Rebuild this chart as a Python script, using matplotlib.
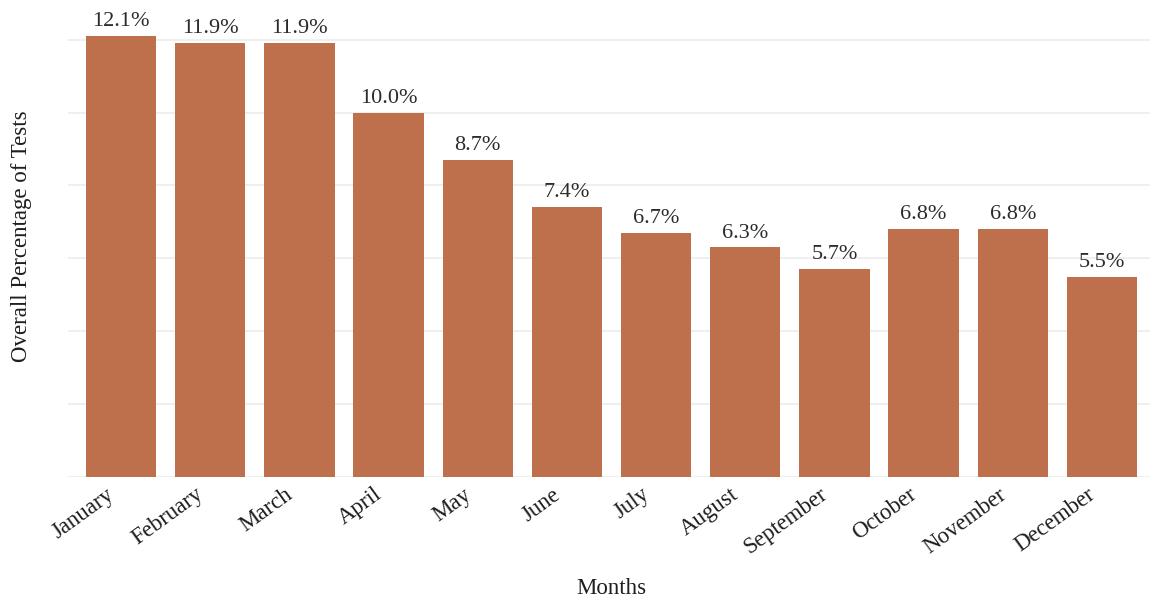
import matplotlib
matplotlib.use("Agg")
import matplotlib.pyplot as plt
from matplotlib.transforms import ScaledTranslation

months = ["January", "February", "March", "April", "May", "June", "July",
          "August", "September", "October", "November", "December"]
share = [12.1, 11.9, 11.9, 10.0, 8.7, 7.4, 6.7, 6.3, 5.7, 6.8, 6.8, 5.5]
grid_ticks = [0, 2, 4, 6, 8, 10, 12]

plt.rcParams['font.family'] = ['Liberation Serif', 'DejaVu Serif']

W, H = 1150, 604
fig = plt.figure(figsize=(W / 100, H / 100), dpi=100)
left, right, top, bottom = 67.5, 1155.5, 14, 477
ax = fig.add_axes([left / W, 1 - bottom / H, (right - left) / W, (bottom - top) / H])

x = list(range(len(months)))
ax.bar(x, share, width=0.79, color="#BE704C", zorder=2)
for xi, v in zip(x, share):
    ax.text(xi, v + 0.27, f"{v:.1f}%", ha="center", va="baseline",
            fontsize=16, color="#2b2b2b")

ax.set_xlim(-0.6, 11.6)
ax.set_ylim(0, 12.1 * 1.05)
ax.set_yticks(grid_ticks)
ax.set_yticklabels([])
ax.tick_params(axis="y", length=0)
ax.tick_params(axis="x", length=0, pad=5)
ax.grid(axis="y", color="#ebebeb", linewidth=1.1, zorder=0)
ax.set_xticks(x)
ax.set_xticklabels(months, rotation=36, ha="right", rotation_mode="anchor",
                   fontsize=16.5, color="#1e1e1e")
shift = ScaledTranslation(-0.15, 0, fig.dpi_scale_trans)
for lbl in ax.get_xticklabels():
    lbl.set_transform(lbl.get_transform() + shift)
for s in ax.spines.values():
    s.set_visible(False)

fig.text(611 / W, 1 - 588 / H, "Months", ha="center", va="center",
         fontsize=16.5, color="#1e1e1e")
fig.text(22 / W, 1 - 236 / H, "Overall Percentage of Tests", ha="center",
         va="center", rotation=90, fontsize=16.5, color="#1e1e1e")

fig.savefig("out.png", dpi=100, facecolor="white")
